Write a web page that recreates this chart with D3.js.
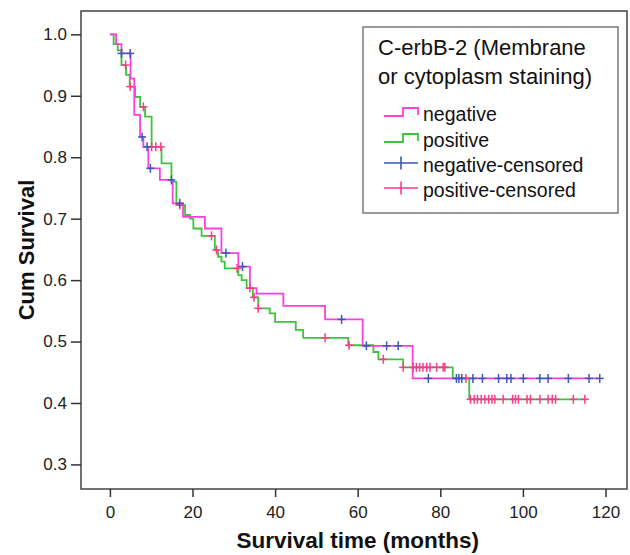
<!DOCTYPE html>
<html>
<head>
<meta charset="utf-8">
<script src="https://cdn.jsdelivr.net/npm/d3@7"></script>
<style>
  body { margin: 0; background: #fff; }
  svg { font-family: "Liberation Sans", Arial, sans-serif; }
</style>
</head>
<body>
<svg id="chart" width="630" height="555"></svg>
<script>
// Kaplan-Meier steps: time of drop (months) and survival after the drop
const negTimes = [0, 1.5, 2.8, 5.0, 5.9, 7.3, 8.1, 9.3, 12.1, 15.2, 17.7, 23.0, 27.0, 31.1, 33.9, 35.5, 42.0, 52.1, 61.2, 73.3];
const negSurv  = [1.0, 0.984, 0.969, 0.928, 0.869, 0.833, 0.817, 0.782, 0.763, 0.725, 0.703, 0.684, 0.644, 0.622, 0.587, 0.578, 0.558, 0.536, 0.493, 0.440];

const posTimes = [0, 0.9, 1.9, 2.8, 3.9, 4.8, 6.1, 7.3, 8.5, 10.1, 12.5, 14.9, 16.1, 18.2, 19.4, 20.2, 22.2, 25.4, 26.2, 27.0, 27.8, 31.1, 31.9, 33.1, 34.6, 35.9, 38.7, 40.0, 45.0, 46.8, 57.7, 63.8, 65.0, 71.0, 83.0, 87.0];
const posSurv  = [1.0, 0.984, 0.974, 0.950, 0.934, 0.915, 0.898, 0.882, 0.866, 0.817, 0.790, 0.760, 0.722, 0.706, 0.700, 0.684, 0.672, 0.649, 0.638, 0.630, 0.619, 0.608, 0.600, 0.587, 0.572, 0.554, 0.546, 0.532, 0.519, 0.506, 0.494, 0.483, 0.471, 0.458, 0.440, 0.406];

// censored observations (months)
const negCensored = [2.8, 4.9, 7.8, 9.0, 9.8, 14.9, 16.9, 28.1, 32.1, 56.1, 62.1, 67.0, 69.8, 77.1, 83.9, 84.5, 85.2, 87.9, 90.2, 94.1, 96.1, 97.1, 100.1, 104.1, 106.1, 111.0, 116.0, 118.6];
const posCensored = [3.8, 4.9, 8.1, 10.1, 11.1, 12.3, 16.9, 24.6, 25.8, 30.8, 33.9, 34.9, 35.9, 52.1, 57.9, 66.2, 71.0, 73.4, 74.2, 75.0, 75.8, 76.7, 77.5, 79.1, 80.7, 81.1, 86.2, 87.3, 88.2, 89.0, 89.9, 90.8, 91.7, 92.5, 93.2, 95.2, 97.5, 98.2, 98.9, 101.0, 101.8, 104.1, 106.1, 107.1, 107.9, 112.2, 115.0];

const xTicks = [0, 20, 40, 60, 80, 100, 120];
const yTicks = [0.3, 0.4, 0.5, 0.6, 0.7, 0.8, 0.9, 1.0];

const legendTitle = ['C-erbB-2 (Membrane', 'or cytoplasm staining)'];
const legendLabels = ['negative', 'positive', 'negative-censored', 'positive-censored'];

const colNeg = '#ff3ee0';
const colPos = '#3cc43c';
const colNegCens = '#3a58b8';
const colPosCens = '#ff3a8e';

const svg = d3.select('#chart');
const plotLeft = 81, plotRight = 627, plotTop = 11, plotBottom = 489;

const x = d3.scaleLinear().domain([-7.0, 125.2]).range([plotLeft, plotRight]);
const y = d3.scaleLinear().domain([0.26, 1.038]).range([plotBottom, plotTop]);

// frame
svg.append('rect')
  .attr('x', plotLeft).attr('y', plotTop)
  .attr('width', plotRight - plotLeft).attr('height', plotBottom - plotTop)
  .attr('fill', 'none').attr('stroke', '#444').attr('stroke-width', 1.5);

// axes
const yAxis = d3.axisLeft(y).tickValues(yTicks).tickFormat(d3.format('.1f')).tickSize(10).tickPadding(4);
const xAxis = d3.axisBottom(x).tickValues(xTicks).tickFormat(d3.format('d')).tickSize(8).tickPadding(9);

const gy = svg.append('g').attr('transform', `translate(${plotLeft},0)`).call(yAxis);
const gx = svg.append('g').attr('transform', `translate(0,${plotBottom})`).call(xAxis);
[gx, gy].forEach(g => {
  g.select('.domain').remove();
  g.selectAll('line').attr('stroke', '#333').attr('stroke-width', 1.5);
  g.selectAll('text').attr('fill', '#222').style('font-size', '17px')
    .style('font-family', '"Liberation Sans", Arial, sans-serif');
});

svg.append('text')
  .attr('x', (x(0) + x(120)) / 2).attr('y', 548)
  .attr('text-anchor', 'middle')
  .style('font-size', '22.5px').style('font-weight', 'bold').attr('fill', '#111')
  .text('Survival time (months)');

svg.append('text')
  .attr('transform', `translate(34,${(plotTop + plotBottom) / 2}) rotate(-90)`)
  .attr('text-anchor', 'middle')
  .style('font-size', '22px').style('font-weight', 'bold').attr('fill', '#111')
  .text('Cum Survival');

// survival curves
function survAt(times, surv, t) {
  let s = surv[0];
  for (let i = 0; i < times.length; i++) if (times[i] <= t) s = surv[i];
  return s;
}

const line = d3.line().x(d => x(d[0])).y(d => y(d[1])).curve(d3.curveStepAfter);

function curve(times, surv, endTime, color) {
  const pts = times.map((t, i) => [t, surv[i]]);
  pts.push([endTime, surv[surv.length - 1]]);
  svg.append('path').datum(pts)
    .attr('d', line)
    .attr('fill', 'none').attr('stroke', color).attr('stroke-width', 1.8);
}

curve(posTimes, posSurv, d3.max(posCensored), colPos);
curve(negTimes, negSurv, d3.max(negCensored), colNeg);

function censors(times, surv, cens, color) {
  const g = svg.append('g').attr('stroke', color).attr('stroke-width', 1.5);
  cens.forEach(t => {
    const cx = x(t), cy = y(survAt(times, surv, t));
    g.append('line').attr('x1', cx - 4).attr('x2', cx + 4).attr('y1', cy).attr('y2', cy);
    g.append('line').attr('x1', cx).attr('x2', cx).attr('y1', cy - 4.5).attr('y2', cy + 4.5);
  });
}

censors(posTimes, posSurv, posCensored, colPosCens);
censors(negTimes, negSurv, negCensored, colNegCens);

// legend
const lg = svg.append('g');
lg.append('rect')
  .attr('x', 363).attr('y', 27).attr('width', 255).attr('height', 186)
  .attr('fill', '#fff').attr('stroke', '#666').attr('stroke-width', 1.3);

legendTitle.forEach((t, i) => {
  lg.append('text').attr('x', 378).attr('y', 55 + i * 28.5)
    .style('font-size', '22px').attr('fill', '#111').text(t);
});

const rowBase = [121, 147, 172, 197];
const rowColors = [colNeg, colPos, colNegCens, colPosCens];
legendLabels.forEach((label, i) => {
  const b = rowBase[i];
  if (i < 2) {
    lg.append('path')
      .attr('d', `M384,${b - 5}H403V${b - 13}H418V${b - 6}`)
      .attr('fill', 'none').attr('stroke', rowColors[i]).attr('stroke-width', 1.8);
  } else {
    lg.append('path')
      .attr('d', `M384,${b - 9}H418M401,${b - 15.5}V${b - 2.5}`)
      .attr('fill', 'none').attr('stroke', rowColors[i]).attr('stroke-width', 1.6);
  }
  lg.append('text').attr('x', 423).attr('y', b)
    .style('font-size', '19.5px').attr('fill', '#111').text(label);
});
</script>
</body>
</html>
